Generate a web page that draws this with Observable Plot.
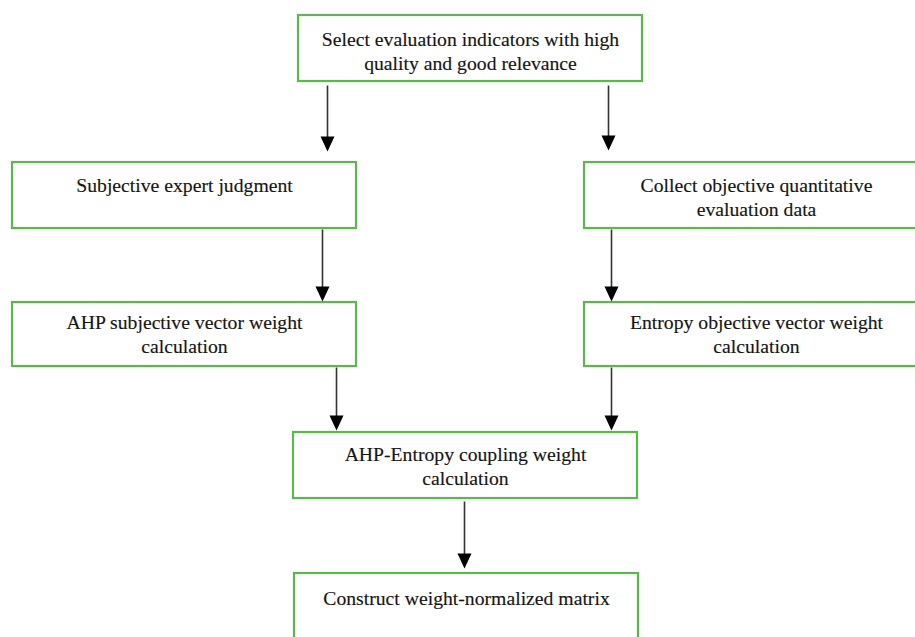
<!DOCTYPE html>
<html>
<head>
<meta charset="utf-8">
<script src="https://cdn.jsdelivr.net/npm/d3@7"></script>
<script src="https://cdn.jsdelivr.net/npm/@observablehq/plot@0.6"></script>
<style>
  html, body { margin: 0; padding: 0; background: #fff; overflow: hidden; }
  #chart svg { display: block; }
</style>
</head>
<body>
<div id="chart"></div>
<script>
// Flowchart nodes
const nodeLabels = [
  "Select evaluation indicators with high\nquality and good relevance",
  "Subjective expert judgment",
  "Collect objective quantitative\nevaluation data",
  "AHP subjective vector weight\ncalculation",
  "Entropy objective vector weight\ncalculation",
  "AHP-Entropy coupling weight\ncalculation",
  "Construct weight-normalized matrix"
];
// Node layout (diagram coordinates, px)
const nodeX1 = [298, 12, 584, 12, 584, 293, 294];
const nodeX2 = [642, 356, 928, 356, 928, 637, 638];
const nodeY1 = [15, 162, 162, 302, 302, 432, 573];
const nodeY2 = [81, 228, 228, 366, 366, 498, 640];
const labelY = [50, 184, 195.5, 332.5, 332.5, 465, 597];

// Arrows (connections)
const arrowFrom = [0, 0, 1, 2, 3, 4, 5];
const arrowTo   = [1, 2, 3, 4, 5, 5, 6];
const arrowX    = [327, 608, 322, 611, 336, 611, 464];
const arrowY1   = [85, 85, 229, 229, 367, 367, 501];
const arrowY2   = [151, 150, 301, 301, 430, 430, 568];

const nodes = nodeLabels.map((label, i) => ({
  label, x1: nodeX1[i], x2: nodeX2[i], y1: nodeY1[i], y2: nodeY2[i],
  cx: (nodeX1[i] + nodeX2[i]) / 2, ty: labelY[i]
}));
const arrows = arrowFrom.map((f, i) => ({
  from: f, to: arrowTo[i], x: arrowX[i], y1: arrowY1[i], y2: arrowY2[i]
}));

// filled arrowhead: tip at origin, pointing down
const arrowHead = {
  draw(context) {
    context.moveTo(0, 0);
    context.lineTo(-7, -15);
    context.lineTo(7, -15);
    context.closePath();
  }
};

const W = 915, H = 637;
const FS = 19.7;
const chart = Plot.plot({
  width: W,
  height: H,
  margin: 0,
  x: {domain: [0, W], axis: null},
  y: {domain: [0, H], reverse: true, axis: null},
  style: {background: "#fff"},
  marks: [
    Plot.rect(nodes, {
      x1: "x1", x2: "x2", y1: "y1", y2: "y2",
      fill: "#fff", stroke: "#5cb84e", strokeWidth: 2.2, clip: true
    }),
    Plot.text(nodes, {
      x: "cx", y: "ty", text: "label",
      fontFamily: "Liberation Serif, DejaVu Serif, serif",
      fontSize: FS, lineHeight: 24 / FS, lineAnchor: "middle",
      textAnchor: "middle", fill: "#151515",
      stroke: "#151515", strokeWidth: 0.15
    }),
    Plot.link(arrows, {
      x1: "x", x2: "x", y1: "y1", y2: d => d.y2 - 8,
      stroke: "#333", strokeWidth: 1.6
    }),
    Plot.dot(arrows, {
      x: "x", y: "y2", symbol: arrowHead, fill: "#000", r: 5
    })
  ]
});
document.getElementById("chart").appendChild(chart);
</script>
</body>
</html>
